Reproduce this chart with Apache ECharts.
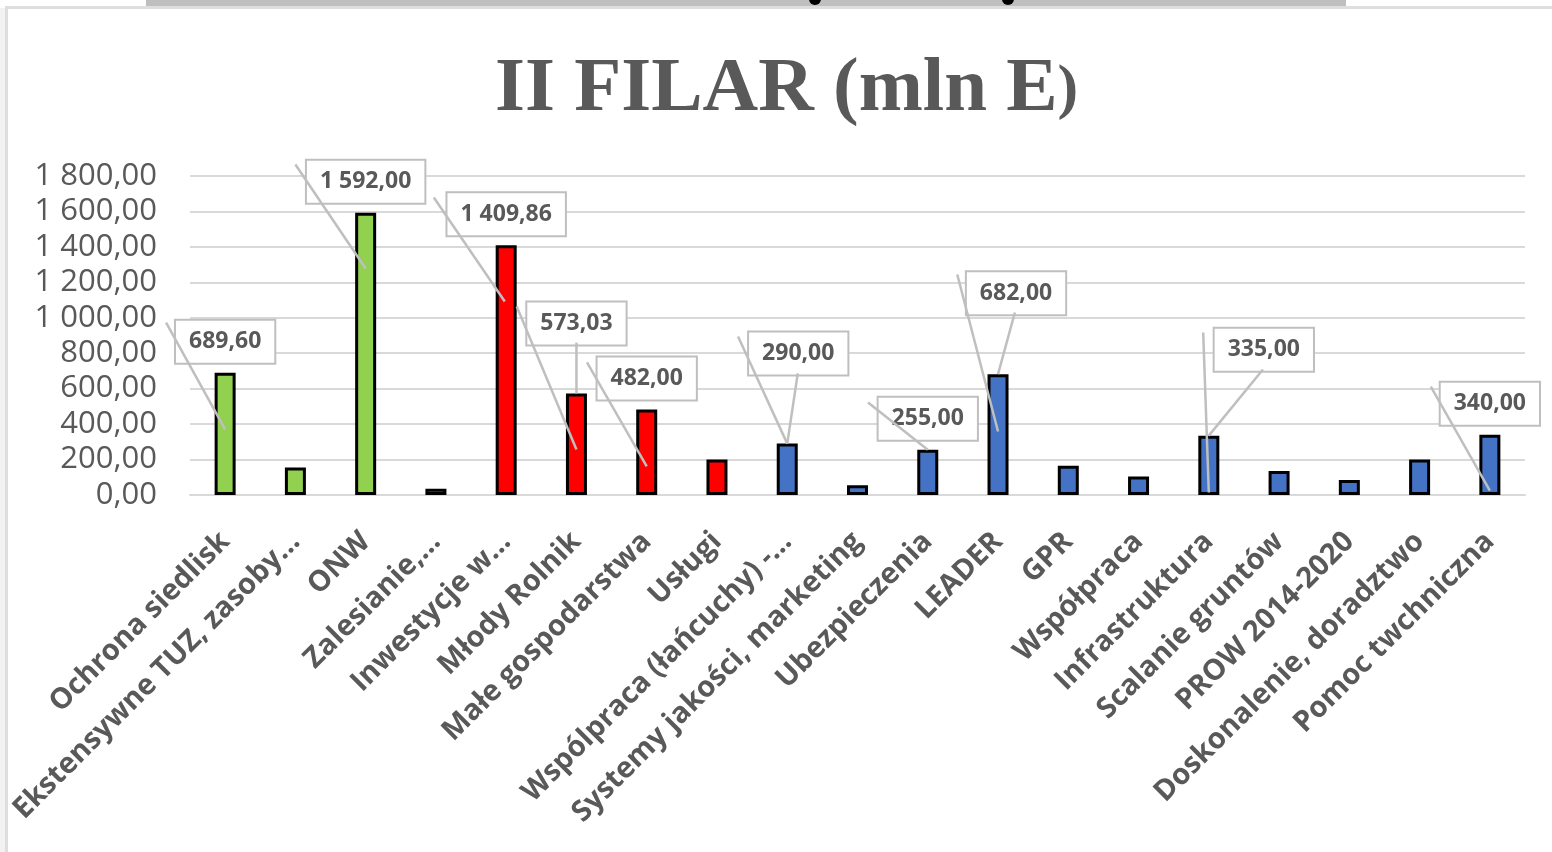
<!DOCTYPE html>
<html>
<head>
<meta charset="utf-8">
<title>II FILAR (mln E)</title>
<script src="https://cdn.jsdelivr.net/npm/echarts@6/dist/echarts.min.js"></script>
<style>
  html, body { margin: 0; padding: 0; background: #fff; }
  #chart { width: 1552px; height: 852px; }
</style>
</head>
<body>
<div id="chart"></div>
<script>
// kategorie i wartości (mln E)
const categories = [
  'Ochrona siedlisk', 'Ekstensywne TUZ, zasoby…', 'ONW', 'Zalesianie,…',
  'Inwestycje w…', 'Młody Rolnik', 'Małe gospodarstwa', 'Usługi',
  'Wspólpraca (łańcuchy) -…', 'Systemy jakości, marketing', 'Ubezpieczenia', 'LEADER',
  'GPR', 'Współpraca', 'Infrastruktura', 'Scalanie gruntów',
  'PROW 2014-2020', 'Doskonalenie, doradztwo', 'Pomoc twchniczna'
]
const values = [
  689.60, 155, 1592.00, 35,
  1409.86, 573.03, 482.00, 200,
  290.00, 55, 255.00, 682.00,
  165, 105, 335.00, 135,
  85, 200, 340.00
]
// grupa kolorystyczna każdej kategorii
const groupOf = [0, 0, 0, 0, 1, 1, 1, 1, 2, 2, 2, 2, 2, 2, 2, 2, 2, 2, 2]
// kategorie z etykietą wartości
const labelled = [
  'Ochrona siedlisk', 'ONW', 'Inwestycje w…', 'Młody Rolnik', 'Małe gospodarstwa',
  'Wspólpraca (łańcuchy) -…', 'Ubezpieczenia', 'LEADER', 'Infrastruktura', 'Pomoc twchniczna'
]
const yTicks = [0, 200, 400, 600, 800, 1000, 1200, 1400, 1600, 1800]
// linie odniesienia etykiet: [kategoria od, wartość od, kategoria do, wartość do]
const leaderLines = [
  [-0.84, 973, 0, 370],
  [1.0, 1865, 2.0, 1278],
  [2.97, 1679, 3.98, 1092],
  [4.15, 1064, 5.0, 257],
  [5.0, 860, 5.0, 573],
  [5.15, 748, 6.0, 161],
  [7.3, 894, 8.0, 290],
  [8.15, 686, 8.0, 290],
  [9.15, 522, 10.0, 255],
  [10.42, 1244, 11.0, 358],
  [11.24, 1030, 11.0, 682],
  [13.92, 917, 14.0, 14],
  [14.77, 708, 14.0, 335],
  [17.16, 612, 18.0, 25]
]

const groupColors = ['#92d050', '#ff0000', '#4472c4']
const labelOffset = {
  'Młody Rolnik': [0, -39],
  'Wspólpraca (łańcuchy) -…': [11, -59],
  'LEADER': [18, -50],
  'Infrastruktura': [55, -55]
}

// 1800 -> "1 800,00"
const fmt = (v) => {
  const parts = Number(v).toFixed(2).split('.')
  const int = parts[0].replace(/\B(?=(\d{3})+(?!\d))/g, ' ')
  return int + ',' + parts[1]
}

const chart = echarts.init(document.getElementById('chart'))

const barData = values.map((v, i) => {
  const name = categories[i]
  const item = {
    value: v,
    itemStyle: { color: groupColors[groupOf[i]] }
  }
  if (labelled.includes(name)) {
    item.label = { show: true, offset: labelOffset[name] || [0, 0] }
  }
  return item
})

const option = {
  backgroundColor: '#ffffff',
  animation: false,
  title: {
    text: '{a|II FILAR (mln E}{b|)}',
    left: 490,
    top: 47,
    textStyle: {
      rich: {
        a: {
          fontFamily: 'Liberation Serif',
          fontWeight: 'bold',
          fontSize: 77,
          color: '#595959'
        },
        b: {
          fontFamily: 'Liberation Serif',
          fontWeight: 'bold',
          fontSize: 62,
          color: '#595959'
        }
      }
    }
  },
  grid: {
    left: 190,
    right: 27,
    top: 176,
    bottom: 357
  },
  xAxis: [
    {
      type: 'category',
      data: categories,
      axisLine: { lineStyle: { color: '#d9d9d9', width: 2 } },
      axisTick: { show: false },
      axisLabel: {
        interval: 0,
        rotate: 45,
        margin: 42,
        color: '#595959',
        fontFamily: 'Open Sans',
        fontWeight: 'bold',
        fontSize: 29
      }
    },
    {
      type: 'value',
      min: -0.5,
      max: 18.5,
      show: false
    }
  ],
  yAxis: {
    type: 'value',
    min: yTicks[0],
    max: yTicks[yTicks.length - 1],
    interval: yTicks[1] - yTicks[0],
    axisLine: { show: false },
    axisTick: { show: false },
    axisLabel: {
      margin: 33,
      color: '#595959',
      fontFamily: 'Open Sans',
      fontSize: 31,
      formatter: (v) => fmt(v)
    },
    splitLine: { lineStyle: { color: '#d9d9d9', width: 2 } }
  },
  series: [
    {
      type: 'bar',
      data: barData,
      barWidth: 21,
      itemStyle: {
        borderColor: '#000000',
        borderWidth: 3
      },
      label: {
        show: false,
        position: 'top',
        distance: 10,
        formatter: (p) => fmt(p.value),
        color: '#595959',
        fontFamily: 'Open Sans',
        fontWeight: 'bold',
        fontSize: 23,
        lineHeight: 28,
        backgroundColor: '#ffffff',
        borderColor: '#bfbfbf',
        borderWidth: 2,
        padding: [7, 13]
      }
    },
    {
      type: 'custom',
      xAxisIndex: 1,
      yAxisIndex: 0,
      z: 10,
      clip: false,
      silent: true,
      data: leaderLines,
      renderItem: (params, api) => {
        const p0 = api.coord([api.value(0), api.value(1)])
        const p1 = api.coord([api.value(2), api.value(3)])
        return {
          type: 'line',
          shape: { x1: p0[0], y1: p0[1], x2: p1[0], y2: p1[1] },
          style: { stroke: '#bfbfbf', lineWidth: 2.5 }
        }
      }
    }
  ],
  graphic: [
    { type: 'rect', shape: { x: 0, y: 8, width: 5, height: 844 }, style: { fill: '#f2f2f2' } },
    { type: 'rect', shape: { x: 146, y: 0, width: 1200, height: 6 }, style: { fill: '#bfbfbf' } },
    { type: 'circle', shape: { cx: 815, cy: -1, r: 6 }, style: { fill: '#000000' } },
    { type: 'circle', shape: { cx: 1008, cy: -1, r: 6 }, style: { fill: '#000000' } },
    { type: 'line', shape: { x1: 5, y1: 7.5, x2: 1552, y2: 7.5 }, style: { stroke: '#dedede', lineWidth: 3 } },
    { type: 'line', shape: { x1: 6.5, y1: 7, x2: 6.5, y2: 852 }, style: { stroke: '#dedede', lineWidth: 3 } }
  ]
}

chart.setOption(option)
</script>
</body>
</html>
